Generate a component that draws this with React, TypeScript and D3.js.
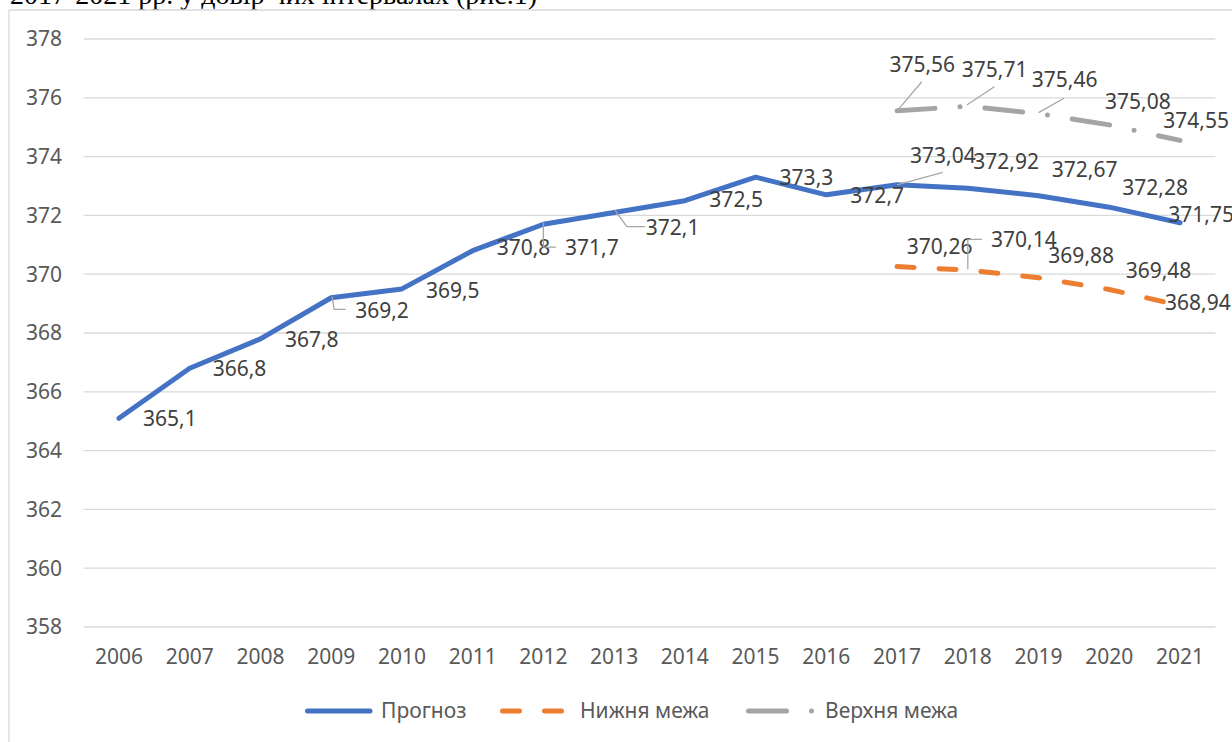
import React from 'react';
import * as d3 from 'd3';

const years = ['2006','2007','2008','2009','2010','2011','2012','2013','2014','2015','2016','2017','2018','2019','2020','2021'];
const forecast = [365.1, 366.8, 367.8, 369.2, 369.5, 370.8, 371.7, 372.1, 372.5, 373.3, 372.7, 373.04, 372.92, 372.67, 372.28, 371.75];
const boundYears = ['2017','2018','2019','2020','2021'];
const lower = [370.26, 370.14, 369.88, 369.48, 368.94];
const upper = [375.56, 375.71, 375.46, 375.08, 374.55];
const yTicks = [358, 360, 362, 364, 366, 368, 370, 372, 374, 376, 378];
const seriesNames = ['Прогноз', 'Нижня межа', 'Верхня межа'];
const captionText = '2017-2021 рр. у довір чих інтервалах (рис.1)';

// label placement (offset of label left edge / vertical centre from the point)
const forecastLabelOffsets: [number, number][] = [[24,0],[23,0],[24.5,0.5],[24,13],[24,1.5],[24,-3.2],[21.6,23.3],[31.7,15],[24.5,-1.5],[24,0.3],[24,1],[13,-29],[5.5,-26.7],[13.2,-26.2],[13,-19.4],[-11.7,-8.7]];
const upperLabelOffsets: [number, number][] = [[-7.7,-46.5],[-6,-36.8],[-6.8,-33.7],[-4.3,-23.1],[-16.7,-19.6]];
const lowerLabelOffsets: [number, number][] = [[9.7,-19.9],[23.2,-30.1],[9.8,-22.7],[16.4,-18.7],[-15,-2.9]];
// leader lines, relative to point
const forecastLeaders: Record<number, [number, number][]> = {
  3: [[1,-1],[3,11.6],[14.5,11.6]],
  6: [[0,-2],[0,23],[12.5,23]],
  7: [[1,-2],[12.7,14.2],[31,14.2]],
  11: [[0,0],[45.7,-12.5]],
};
const upperLeaders: Record<number, [number, number][]> = {
  0: [[1.3,-1.4],[24.7,-29]],
  1: [[-1,-1.3],[26.5,-19.6]],
  2: [[0,-1],[25.5,-15.4]],
};
const lowerLeaders: Record<number, [number, number][]> = {
  1: [[0,-0.8],[0,-30.8],[14,-30.8]],
};

const W = 1232, H = 742;
const FONT = '"Noto Sans", "Open Sans", sans-serif';
const FS = 21;
const BLUE = '#4472C4', ORANGE = '#ED7D31', GRAY = '#A5A5A5';

const fmt = (v: number) => String(v).replace('.', ',');

export default function App() {
  const xb = d3.scaleBand<string>().domain(years).range([83.6, 1215.4]).padding(0);
  const x = (yr: string) => (xb(yr) as number) + xb.bandwidth() / 2;
  const y = d3.scaleLinear().domain([358, 378]).range([627, 39]);
  const line = d3.line<[string, number]>().x(d => x(d[0])).y(d => y(d[1]));
  const fData = years.map((yr, i) => [yr, forecast[i]] as [string, number]);
  const lData = boundYears.map((yr, i) => [yr, lower[i]] as [string, number]);
  const uData = boundYears.map((yr, i) => [yr, upper[i]] as [string, number]);
  const plotL = 83.6, plotR = 1215.4;
  const baseOff = 0.357 * FS;

  const labels = (data: [string, number][], offs: [number, number][], leaders: Record<number, [number, number][]>, key: string) =>
    data.map((d, i) => {
      const px = x(d[0]), py = y(d[1]);
      const ld = leaders[i];
      return (
        <g key={key + i}>
          {ld && (
            <polyline
              points={ld.map(p => `${px + p[0]},${py + p[1]}`).join(' ')}
              fill="none" stroke="#A6A6A6" strokeWidth={1.3}
            />
          )}
          <text x={px + offs[i][0]} y={py + offs[i][1] + baseOff} fontFamily={FONT} fontSize={FS} fill="#404040">
            {fmt(d[1])}
          </text>
        </g>
      );
    });

  const legY = 711;
  return (
    <svg width={W} height={H} style={{ position: 'absolute', left: 0, top: 0, background: '#fff' }}>
      <rect x={0} y={0} width={W} height={H} fill="#fff" />
      <text x={10} y={3.5} fontFamily='"Liberation Serif", "Times New Roman", serif' fontSize={28} fill="#000">{captionText}</text>
      <line x1={9} y1={10} x2={W} y2={10} stroke="#D9D9D9" strokeWidth={1.3} />
      <line x1={9} y1={10} x2={9} y2={H} stroke="#D9D9D9" strokeWidth={1.3} />
      {yTicks.map(t => (
        <g key={'t' + t}>
          <line x1={plotL} x2={plotR} y1={y(t)} y2={y(t)} stroke="#D9D9D9" strokeWidth={1.3} />
          <text x={62} y={y(t) + baseOff} textAnchor="end" fontFamily={FONT} fontSize={FS} fill="#595959">{t}</text>
        </g>
      ))}
      {years.map(yr => (
        <text key={'x' + yr} x={x(yr)} y={657 + baseOff} textAnchor="middle" fontFamily={FONT} fontSize={FS} fill="#595959">{yr}</text>
      ))}
      <path d={line(fData) || ''} fill="none" stroke={BLUE} strokeWidth={5} strokeLinejoin="round" strokeLinecap="round" />
      <path d={line(lData) || ''} fill="none" stroke={ORANGE} strokeWidth={5} strokeDasharray="17 25" strokeLinecap="round" />
      <path d={line(uData) || ''} fill="none" stroke={GRAY} strokeWidth={5} strokeDasharray="38 25 0 25" strokeLinecap="round" />
      {labels(fData, forecastLabelOffsets, forecastLeaders, 'f')}
      {labels(uData, upperLabelOffsets, upperLeaders, 'u')}
      {labels(lData, lowerLabelOffsets, lowerLeaders, 'l')}
      {/* legend */}
      <line x1={307.5} x2={370} y1={legY} y2={legY} stroke={BLUE} strokeWidth={5} strokeLinecap="round" />
      <text x={381} y={legY + baseOff} fontFamily={FONT} fontSize={FS} fill="#595959">{seriesNames[0]}</text>
      <line x1={502.5} x2={565} y1={legY} y2={legY} stroke={ORANGE} strokeWidth={5} strokeDasharray="17 25" strokeLinecap="round" />
      <text x={580} y={legY + baseOff} fontFamily={FONT} fontSize={FS} fill="#595959">{seriesNames[1]}</text>
      <line x1={748.5} x2={813} y1={legY} y2={legY} stroke={GRAY} strokeWidth={5} strokeDasharray="38 25 0 25" strokeLinecap="round" />
      <text x={825} y={legY + baseOff} fontFamily={FONT} fontSize={FS} fill="#595959">{seriesNames[2]}</text>
    </svg>
  );
}
